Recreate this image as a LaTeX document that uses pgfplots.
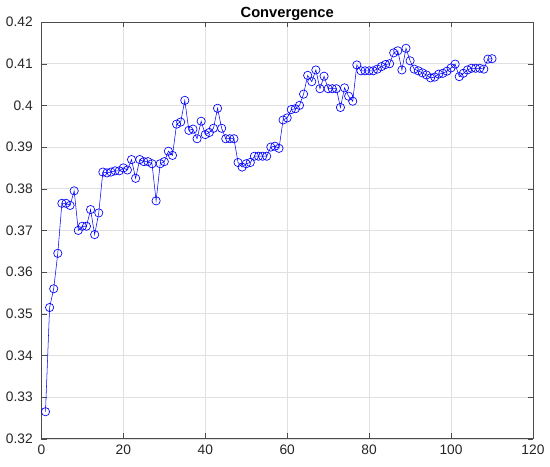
\documentclass[border=0pt]{standalone}
\usepackage{fontspec}
\setmainfont{Liberation Sans}
\usepackage{pgfplots}
\pgfplotsset{compat=1.18}
\begin{document}
\begin{tikzpicture}
\begin{axis}[
  scale only axis,
  width=368pt, height=312pt,
  xmin=0, xmax=120, ymin=0.32, ymax=0.42,
  xtick={0,20,...,120},
  ytick={0.32,0.33,...,0.42},
  yticklabel style={xshift=-3pt, /pgf/number format/fixed, /pgf/number format/precision=3},
  xticklabel style={yshift=-1pt},
  /pgf/number format/assume math mode=true,
  scaled y ticks=false,
  tick label style={font=\fontsize{10.3}{12}\selectfont, color=black!85},
  title={\textbf{Convergence}},
  title style={font=\fontsize{11}{13}\selectfont, at={(0.5,1)}, anchor=base, yshift=-2.25pt},
  grid=major,
  grid style={color=black!12, line width=0.4pt},
  axis line style={color=black!70, line width=0.5pt},
  tick style={color=black!70},
  tick align=inside,
  major tick length=4pt,
  xtick pos=both, ytick pos=both,
]
\addplot[color=blue, line width=0.4pt, mark=o, mark size=3.1pt, mark options={line width=0.5pt}] coordinates {
(1,0.3265)(2,0.3515)(3,0.3560)(4,0.3645)(5,0.3765)(6,0.3765)(7,0.3760)(8,0.3795)(9,0.3700)(10,0.3710)
(11,0.3710)(12,0.3750)(13,0.3690)(14,0.3742)(15,0.3840)(16,0.3838)(17,0.3840)(18,0.3843)(19,0.3843)(20,0.3850)
(21,0.3845)(22,0.3870)(23,0.3825)(24,0.3870)(25,0.3865)(26,0.3865)(27,0.3860)(28,0.3771)(29,0.3860)(30,0.3865)
(31,0.3890)(32,0.3880)(33,0.3955)(34,0.3960)(35,0.4012)(36,0.3940)(37,0.3943)(38,0.3920)(39,0.3962)(40,0.3930)
(41,0.3935)(42,0.3945)(43,0.3993)(44,0.3945)(45,0.3920)(46,0.3920)(47,0.3920)(48,0.3863)(49,0.3852)(50,0.3860)
(51,0.3863)(52,0.3878)(53,0.3878)(54,0.3878)(55,0.3878)(56,0.3900)(57,0.3902)(58,0.3897)(59,0.3965)(60,0.3970)
(61,0.3990)(62,0.3992)(63,0.4000)(64,0.4027)(65,0.4072)(66,0.4057)(67,0.4085)(68,0.4040)(69,0.4070)(70,0.4040)
(71,0.4040)(72,0.4040)(73,0.3995)(74,0.4042)(75,0.4022)(76,0.4010)(77,0.4097)(78,0.4083)(79,0.4083)(80,0.4083)
(81,0.4083)(82,0.4087)(83,0.4093)(84,0.4098)(85,0.4100)(86,0.4126)(87,0.4131)(88,0.4085)(89,0.4137)(90,0.4107)
(91,0.4087)(92,0.4083)(93,0.4078)(94,0.4073)(95,0.4066)(96,0.4068)(97,0.4075)(98,0.4077)(99,0.4082)(100,0.4090)
(101,0.4099)(102,0.4069)(103,0.4077)(104,0.4085)(105,0.4089)(106,0.4089)(107,0.4089)(108,0.4087)(109,0.4111)(110,0.4112)
};
\end{axis}
\pgfresetboundingbox
\path[use as bounding box] ([shift={(-31pt,-21pt)}]current axis.south west) rectangle ([shift={(12.75pt,16.5pt)}]current axis.north east);
\end{tikzpicture}
\end{document}
